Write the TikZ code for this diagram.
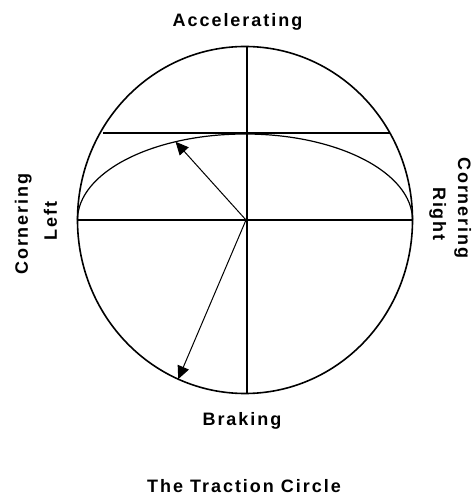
\documentclass[tikz,border=0pt]{standalone}
\usepackage{fontspec}
\usetikzlibrary{arrows.meta}
\newfontfamily\labelfont{Liberation Sans}[LetterSpace=11]
\tikzset{
  lbl/.style={font=\fontsize{18}{20}\selectfont\labelfont\bfseries, inner sep=0pt},
  rim/.style={line width=1.6pt},
  axis/.style={line width=1.6pt},
  grip/.style={line width=1.2pt},
  arr/.style={-{Triangle[length=13pt, width=12pt]}, line width=1pt}
}
\begin{document}
\begin{tikzpicture}[x=1pt, y=1pt]
  \useasboundingbox (-245,-277) rectangle (228,220);

  \coordinate (O) at (1,0);
  \draw[rim] (0,0) ellipse [x radius=167.5, y radius=173.5];

  % axes and the upper chord
  \coordinate (top) at (2,174);
  \coordinate (bot) at (2,-173);
  \coordinate (lft) at (-167.5,0);
  \coordinate (rgt) at (167.5,0);
  \draw[axis] (top) -- (bot);
  \draw[axis] (lft) -- (rgt);
  \coordinate (chordL) at (-142,87);
  \coordinate (chordR) at (145,87);
  \draw[axis] (chordL) -- (chordR);

  % reduced grip under cornering
  \draw[grip] (lft) arc[start angle=180, end angle=0, x radius=167.5, y radius=86];

  \coordinate (tipA) at (114.5:167.5 and 86);
  \coordinate (tipB) at (246.5:167.5 and 173.5);
  \draw[arr] (O) -- (tipA);
  \draw[arr] (O) -- (tipB);

  \node[lbl, anchor=base] (accel) at (-7.5,193) {Accelerating};
  \node[lbl, anchor=base] (brake) at (-3,-205) {Braking};
  \node[lbl, anchor=base, rotate=90] (cornL) at (-217,-4) {Cornering};
  \node[lbl, anchor=base, rotate=90] (left) at (-188,-1) {Left};
  \node[lbl, anchor=base, rotate=-90] (cornR) at (213,12) {Cornering};
  \node[lbl, anchor=base, rotate=-90] (right) at (188,6) {Right};
  \node[lbl, anchor=base] (title) at (-1,-272) {The Traction Circle};
\end{tikzpicture}
\end{document}
